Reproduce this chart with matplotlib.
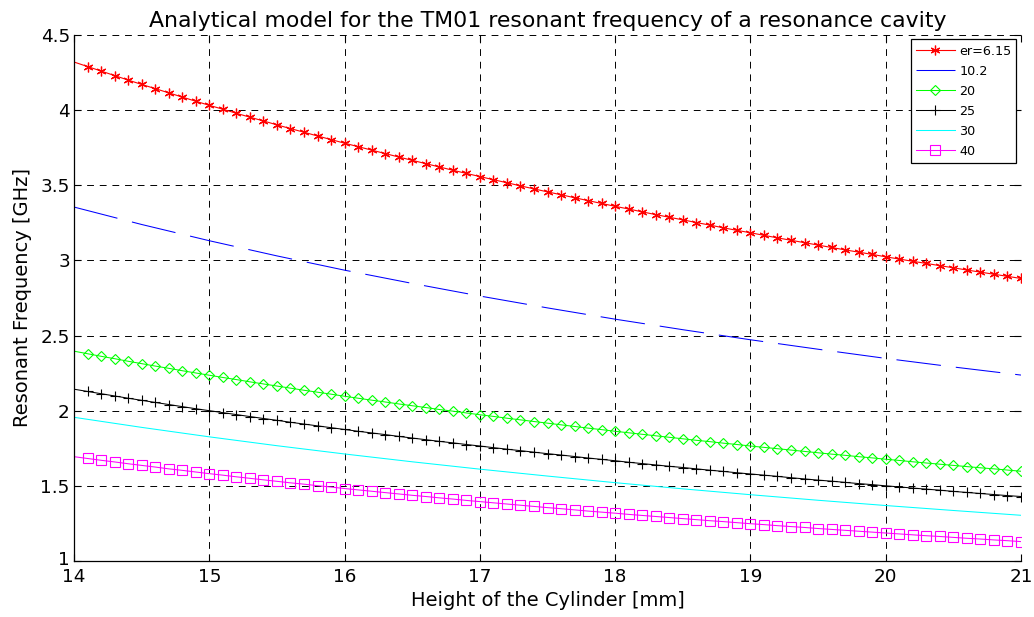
import numpy as np
import matplotlib
matplotlib.use("Agg")
import matplotlib.pyplot as plt
from matplotlib.transforms import ScaledTranslation

plt.rcParams['font.family'] = ['DejaVu Sans']

# Высота цилиндра, мм (шаг 0.1 для кривых с маркерами)
height = np.linspace(14, 21, 71)
# Высота с шагом 0.5 для кривых без маркеров
heightCoarse = np.linspace(14, 21, 15)

labels = ["er=6.15", "10.2", "20", "25", "30", "40"]

# Резонансная частота, ГГц
f615 = [4.320, 4.290, 4.260, 4.230, 4.200, 4.171, 4.143, 4.115, 4.087, 4.059,
        4.032, 4.006, 3.979, 3.953, 3.928, 3.902, 3.877, 3.853, 3.828, 3.804,
        3.780, 3.757, 3.734, 3.711, 3.688, 3.666, 3.644, 3.622, 3.600, 3.579,
        3.558, 3.537, 3.517, 3.496, 3.476, 3.456, 3.437, 3.417, 3.398, 3.379,
        3.360, 3.342, 3.323, 3.305, 3.287, 3.270, 3.252, 3.235, 3.217, 3.200,
        3.184, 3.167, 3.150, 3.134, 3.118, 3.102, 3.086, 3.070, 3.055, 3.040,
        3.024, 3.009, 2.994, 2.980, 2.965, 2.951, 2.936, 2.922, 2.908, 2.894,
        2.880]
f102 = [3.355, 3.239, 3.131, 3.030, 2.935, 2.847, 2.763, 2.684, 2.609, 2.539,
        2.472, 2.409, 2.348, 2.291, 2.237]
f20 = [2.396, 2.379, 2.362, 2.346, 2.329, 2.313, 2.297, 2.282, 2.266, 2.251,
       2.236, 2.221, 2.207, 2.192, 2.178, 2.164, 2.150, 2.136, 2.123, 2.110,
       2.096, 2.083, 2.070, 2.058, 2.045, 2.033, 2.021, 2.008, 1.997, 1.985,
       1.973, 1.962, 1.950, 1.939, 1.928, 1.917, 1.906, 1.895, 1.884, 1.874,
       1.863, 1.853, 1.843, 1.833, 1.823, 1.813, 1.803, 1.794, 1.784, 1.775,
       1.765, 1.756, 1.747, 1.738, 1.729, 1.720, 1.711, 1.703, 1.694, 1.686,
       1.677, 1.669, 1.660, 1.652, 1.644, 1.636, 1.628, 1.620, 1.613, 1.605,
       1.597]
f25 = [2.143, 2.128, 2.113, 2.098, 2.083, 2.069, 2.055, 2.041, 2.027, 2.013,
       2.000, 1.987, 1.974, 1.961, 1.948, 1.936, 1.923, 1.911, 1.899, 1.887,
       1.875, 1.863, 1.852, 1.841, 1.829, 1.818, 1.807, 1.796, 1.786, 1.775,
       1.765, 1.754, 1.744, 1.734, 1.724, 1.714, 1.705, 1.695, 1.685, 1.676,
       1.667, 1.657, 1.648, 1.639, 1.630, 1.622, 1.613, 1.604, 1.596, 1.587,
       1.579, 1.571, 1.563, 1.554, 1.546, 1.538, 1.531, 1.523, 1.515, 1.508,
       1.500, 1.493, 1.485, 1.478, 1.471, 1.463, 1.456, 1.449, 1.442, 1.435,
       1.429]
f30 = [1.956, 1.889, 1.826, 1.767, 1.712, 1.660, 1.611, 1.565, 1.521, 1.480,
       1.441, 1.404, 1.369, 1.336, 1.304]
f40 = [1.694, 1.682, 1.670, 1.659, 1.647, 1.636, 1.625, 1.613, 1.603, 1.592,
       1.581, 1.571, 1.560, 1.550, 1.540, 1.530, 1.520, 1.511, 1.501, 1.492,
       1.482, 1.473, 1.464, 1.455, 1.446, 1.437, 1.429, 1.420, 1.412, 1.403,
       1.395, 1.387, 1.379, 1.371, 1.363, 1.355, 1.348, 1.340, 1.332, 1.325,
       1.318, 1.310, 1.303, 1.296, 1.289, 1.282, 1.275, 1.268, 1.262, 1.255,
       1.248, 1.242, 1.235, 1.229, 1.223, 1.216, 1.210, 1.204, 1.198, 1.192,
       1.186, 1.180, 1.174, 1.168, 1.163, 1.157, 1.151, 1.146, 1.140, 1.135,
       1.129]

fig = plt.figure(figsize=(10.34, 6.17), dpi=100)
ax = fig.add_axes([0.0716, 0.0908, 0.9158, 0.8525])

mark = slice(1, None)  # маркеры начиная с 14.1
ax.plot(height, f615, color='#ff0000', lw=0.8, marker=(6, 2, 0), ms=7,
        mew=0.9, markevery=mark, label=labels[0])
ax.plot(heightCoarse, f102, color='#0000ff', lw=0.75,
        linestyle=(0, (43, 14.4)), label=labels[1])
ax.plot(height, f20, color='#00ff00', lw=0.75, marker='D', ms=4.8,
        mfc='none', mew=0.8, markevery=mark, label=labels[2])
ax.plot(height, f25, color='black', lw=0.75, marker='+', ms=7.5,
        mew=0.8, markevery=mark, label=labels[3])
ax.plot(heightCoarse, f30, color='#00ffff', lw=0.75, label=labels[4])
ax.plot(height, f40, color='#ff00ff', lw=0.75, marker='s', ms=6.5,
        mfc='none', mew=0.8, markevery=mark, label=labels[5])

ax.set_xlim(14, 21)
ax.set_ylim(1, 4.5)
ax.set_xticks(np.arange(14, 22, 1))
ax.set_yticks(np.arange(1, 4.6, 0.5))
ax.set_yticklabels(["1", "1.5", "2", "2.5", "3", "3.5", "4", "4.5"])

# Сетка пунктиром
ax.grid(True, color='black', lw=0.7, linestyle=(0, (7, 6)))
ax.spines['top'].set_visible(False)
ax.spines['right'].set_visible(False)
ax.spines['left'].set_linewidth(0.9)
ax.spines['bottom'].set_linewidth(0.9)
ax.tick_params(direction='in', top=True, right=True, length=5, width=0.8,
               labelsize=13.2)
ax.tick_params(axis='x', pad=5)
ax.tick_params(axis='y', pad=3)

# Подпись "1" чуть выше, чтобы не налезала на "14"
lbl = ax.get_yticklabels()[0]
lbl.set_transform(lbl.get_transform() + ScaledTranslation(0, 2 / 72, fig.dpi_scale_trans))

ax.set_title("Analytical model for the TM01 resonant frequency of a resonance cavity",
             fontsize=15.8, pad=6)
ax.set_xlabel("Height of the Cylinder [mm]", fontsize=14, labelpad=4)
ax.set_ylabel("Resonant Frequency [GHz]", fontsize=14, labelpad=6)

leg = ax.legend(loc='upper right', fontsize=9.2, numpoints=1, handlelength=3.0,
                handletextpad=0.35, labelspacing=0.55, borderaxespad=0.35,
                fancybox=False, framealpha=1, edgecolor='black')
leg.get_frame().set_linewidth(0.9)

fig.savefig("out.png", dpi=100)
